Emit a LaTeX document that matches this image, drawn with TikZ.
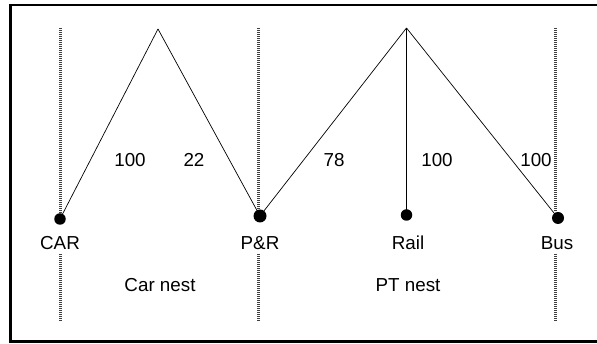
\documentclass[tikz,border=0pt]{standalone}
\usepackage{fontspec}
\setmainfont{Liberation Sans}
\begin{document}
\begin{tikzpicture}[x=1pt,y=1pt,
  dotbox/.style={circle,fill=black,inner sep=0pt,minimum size=#1},
  lbl/.style={inner sep=0pt,font=\fontsize{18.8}{21}\selectfont},
  guide/.style={line width=2.6pt,dash pattern=on 1pt off 1pt,black!75},
  link/.style={line width=0.7pt}]
\useasboundingbox (0,0) rectangle (597,344);
% frame (right side lies beyond the picture)
\draw[line width=2.5pt] (600,339) -- (10.5,339) -- (10.5,2.5) -- (600,2.5);
% guide lines
\coordinate (c1) at (60.5,316); \coordinate (c2) at (60.5,131);
\coordinate (c3) at (60.5,90);  \coordinate (c4) at (60.5,23);
\coordinate (p1) at (258.5,316); \coordinate (p2) at (258.5,132);
\coordinate (p3) at (258.5,90);  \coordinate (p4) at (258.5,23);
\coordinate (b1) at (555.5,316); \coordinate (b2) at (555.5,132);
\coordinate (b3) at (555.5,90);  \coordinate (b4) at (555.5,23);
\draw[guide] (c1) -- (c2); \draw[guide] (c3) -- (c4);
\draw[guide] (p1) -- (p2); \draw[guide] (p3) -- (p4);
\draw[guide] (b1) -- (b2); \draw[guide] (b3) -- (b4);
% apexes and alternatives
\coordinate (a1) at (158,315);
\coordinate (a2) at (406.5,316);
\node[dotbox=11.5pt] (car) at (60,125) {};
\node[dotbox=13pt] (pr) at (260,128) {};
\node[dotbox=11.5pt] (rail) at (406.5,129) {};
\node[dotbox=12pt] (bus) at (558,126) {};
\draw[link] (a1) -- (car.center);
\draw[link] (a1) -- (pr.center);
\draw[link] (a2) -- (pr.center);
\draw[link] (a2) -- (rail.center);
\draw[link] (a2) -- (bus.center);
% labels
\node[lbl] (l1) at (130,184) {100};
\node[lbl] (l2) at (194,184) {22};
\node[lbl] (l3) at (334,184) {78};
\node[lbl] (l4) at (437,184) {100};
\node[lbl] (l5) at (536,184) {100};
\node[lbl] (tcar) at (60,101) {CAR};
\node[lbl] (tpr) at (260,101) {P\&R};
\node[lbl] (trail) at (408,101) {Rail};
\node[lbl] (tbus) at (557,101) {Bus};
\node[lbl] (ncar) at (160,59) {Car nest};
\node[lbl] (npt) at (408,59) {PT nest};
\end{tikzpicture}
\end{document}
